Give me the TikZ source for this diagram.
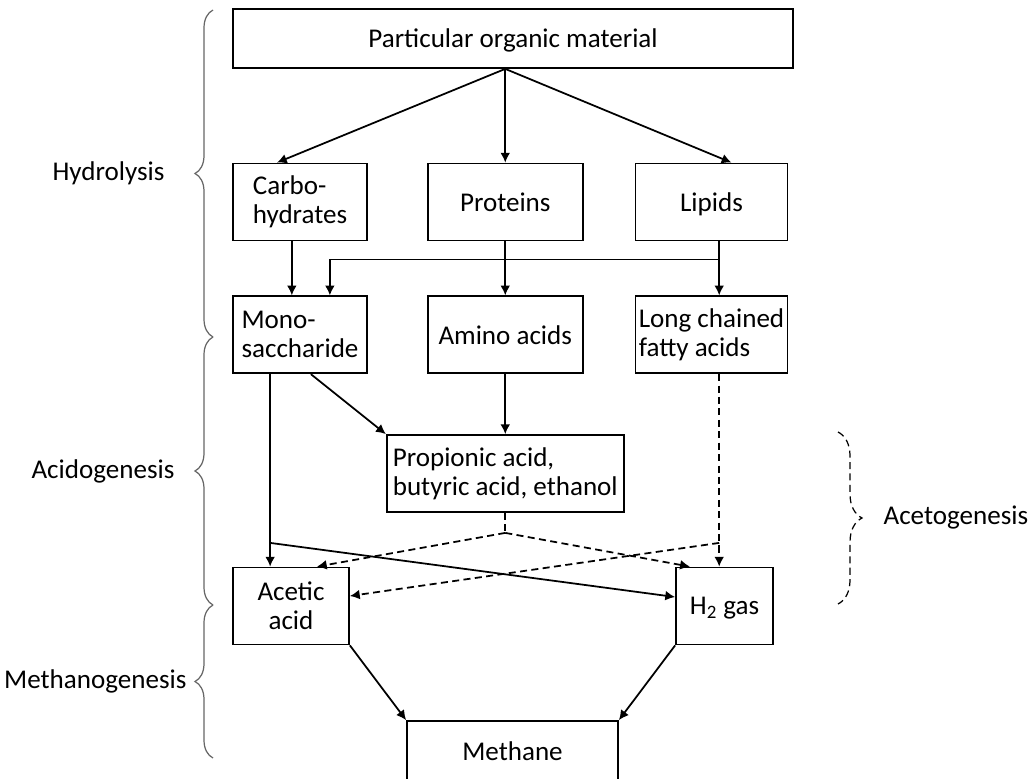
\documentclass[tikz,border=0pt]{standalone}
\usepackage{fontspec}
\setmainfont{Carlito}
\usepackage{tikz}
\usetikzlibrary{arrows.meta, positioning, calc, decorations.pathreplacing}

\begin{document}
\begin{tikzpicture}[
    font=\fontsize{15.4}{16.5}\selectfont,
    >={Latex[length=5.6pt,width=5.6pt]},
    line width=1pt,
    block/.style={
      draw,
      align=left,
      inner xsep=0.05cm,
      minimum width=2.68cm,
      minimum height=1.54cm
    },
    oneline/.style={text depth=0pt},
    dashedline/.style={dash pattern=on 4pt off 2.5pt},
    phase/.style={
      decorate,
      decoration={brace, amplitude=0.36cm},
      draw=black!60,
      line width=0.7pt
    },
    phaselabel/.style={inner sep=0pt},
    node distance=1.08cm
]
\useasboundingbox (0,0) rectangle (20.56,-15.56);

\node[block, oneline, minimum width=11.2cm, minimum height=1.18cm] (organic) at (10.26,-0.77) {Particular organic material};
\node[block] (carbs) at (6.00,-4.04) {Carbo-\\hydrates};
\node[block, oneline, minimum width=3.1cm, right=1.18cm of carbs] (proteins) {Proteins};
\node[block, oneline, minimum width=3.04cm, right=1.02cm of proteins] (lipids) {Lipids};
\node[block, below=of carbs] (mono) {Mono-\\saccharide};
\node[block, oneline, minimum width=3.1cm, below=of proteins] (amino) {Amino acids};
\node[block, minimum width=3.04cm, below=of lipids] (lcfa) {Long chained\\fatty acids};
\node[block, minimum width=4.74cm, below=1.2cm of amino] (acids) {Propionic acid,\\butyric acid, ethanol};
\node[block, align=center, minimum width=2.32cm] (acetic) at (5.82,-12.12) {Acetic\\acid};
\node[block, oneline, minimum width=1.94cm] (htwo) at (14.49,-12.12) {H\textsubscript{2} gas};
\node[block, oneline, minimum width=4.22cm, minimum height=1.22cm] (methane) at (10.25,-15.03) {Methane};

% hydrolysis
\coordinate (split) at (proteins.north |- organic.south);
\draw[->] (split) -- ($(carbs.north west)!0.33!(carbs.north east)$);
\draw[->] (split) -- (proteins.north);
\draw[->] (split) -- ($(lipids.north west)!0.63!(lipids.north east)$);
\draw[->] ($(carbs.south west)!0.44!(carbs.south east)$) coordinate (c1) -- (c1 |- mono.north);
\draw[->] (proteins) -- (amino);
\draw[->] ($(lipids.south west)!0.55!(lipids.south east)$) coordinate (l1) -- (l1 |- lcfa.north);
\draw[->] ($(l1)+(0,-0.36)$) -| ($(mono.north west)!0.72!(mono.north east)$);

% acidogenesis
\draw[->] (amino) -- (acids);
\draw[->] ($(mono.south west)!0.58!(mono.south east)$) -- (acids.north west);
\draw[->] ($(mono.south west)!0.28!(mono.south east)$) coordinate (m1) -- (m1 |- acetic.north);
\coordinate (m2) at ($(m1 |- acids.south)+(0,-0.6)$);
\draw[->] (m2) -- ($(htwo.west)+(0,0.18)$);

% acetogenesis
\coordinate (fork) at ($(acids.south)+(0,-0.4)$);
\draw[dashedline] (acids.south) -- (fork);
\draw[dashedline, ->] (fork) -- ($(acetic.north west)!0.72!(acetic.north east)$);
\draw[dashedline, ->] (fork) -- ($(htwo.north west)!0.15!(htwo.north east)$);
\draw[dashedline, ->] (l1 |- lcfa.south) -- (l1 |- htwo.north);
\draw[dashedline, ->] (l1 |- m2) -- ($(acetic.east)+(0,0.2)$);

% methanogenesis
\draw[->] (acetic.south east) -- (methane.north west);
\draw[->] (htwo.south west) -- (methane.north east);

% phases
\draw[phase] (4.26,-6.74) -- (4.26,-0.20) node[midway, left=0.96cm, phaselabel] (hydrolysis) {Hydrolysis};
\draw[phase] (4.26,-12.10) -- (4.26,-6.74) node[midway, left=0.76cm, phaselabel] (acidogenesis) {Acidogenesis};
\draw[phase] (4.26,-15.16) -- (4.26,-12.10) node[midway, left=0.52cm, phaselabel] (methanogenesis) {Methanogenesis};
\draw[phase, draw=black, dashedline, decoration={brace, amplitude=0.48cm}] (16.76,-8.64) -- (16.76,-12.08) node[midway, right=0.9cm, phaselabel] (acetogenesis) {Acetogenesis};
\end{tikzpicture}
\end{document}
